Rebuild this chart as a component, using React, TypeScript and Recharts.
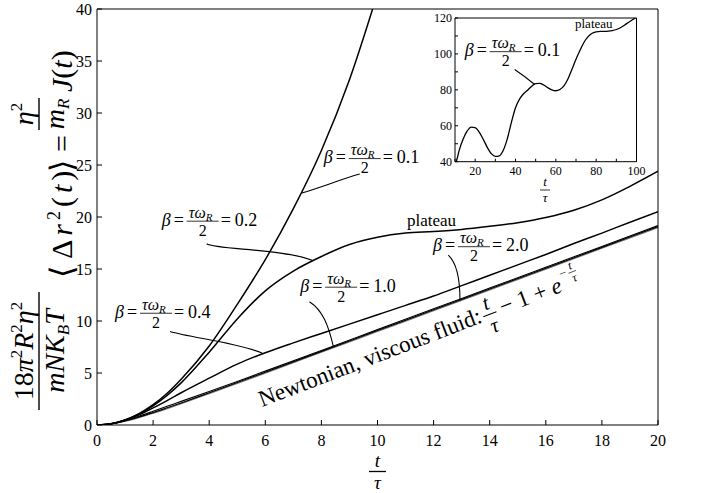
import React from 'react';
import { LineChart, Line, XAxis, YAxis, ReferenceDot } from 'recharts';

const FONT = '"Liberation Serif", "Times New Roman", "DejaVu Serif", serif';

// ---------- main chart data ----------
const xTicks = [0, 2, 4, 6, 8, 10, 12, 14, 16, 18, 20];
const yTicks = [0, 5, 10, 15, 20, 25, 30, 35, 40];

const b01T = [0, 0.5, 1, 1.5, 2, 2.5, 3, 4, 5, 6, 7, 8, 9, 10];
const b01V = [0, 0.12, 0.49, 1.1, 1.95, 3.05, 4.4, 7.6, 11.6, 15.9, 20.8, 26.4, 33.2, 41.5];

const b02T = [0, 0.5, 1, 1.5, 2, 2.5, 3, 4, 5, 6, 7, 8, 9, 10, 11, 12, 13, 14, 15, 16, 17, 18, 19, 20];
const b02V = [0, 0.12, 0.48, 1.07, 1.85, 2.85, 4.05, 7.0, 10.2, 12.9, 14.8, 16.2, 17.35, 18.05, 18.45, 18.6, 18.8, 19.1, 19.45, 19.95, 20.65, 21.65, 22.95, 24.4];

const b04T = [0, 0.5, 1, 1.5, 2, 2.5, 3, 4, 5, 6, 7, 8, 9, 10, 11, 12, 13, 14, 15, 16, 17, 18, 19, 20];
const b04V = [0, 0.11, 0.45, 0.98, 1.65, 2.35, 3.1, 4.5, 5.85, 6.95, 7.9, 8.8, 9.7, 10.6, 11.5, 12.4, 13.4, 14.4, 15.4, 16.4, 17.45, 18.45, 19.5, 20.5];

const b10T = [0, 0.5, 1, 1.5, 2, 2.5, 3, 4, 5, 6, 8, 10, 12, 14, 16, 18, 20];
const b10V = [0, 0.12, 0.42, 0.85, 1.32, 1.8, 2.27, 3.22, 4.19, 5.18, 7.17, 9.17, 11.17, 13.17, 15.17, 17.17, 19.17];

const b20T = [0, 0.5, 1, 1.5, 2, 2.5, 3, 4, 5, 6, 8, 10, 12, 14, 16, 18, 20];
const b20V = [0, 0.11, 0.38, 0.76, 1.19, 1.65, 2.12, 3.1, 4.09, 5.08, 7.08, 9.08, 11.08, 13.08, 15.08, 17.08, 19.08];

const newtT = [0, 0.5, 1, 1.5, 2, 2.5, 3, 4, 5, 6, 7, 8, 10, 12, 14, 16, 18, 20];
const newtV = [0, 0.107, 0.368, 0.723, 1.135, 1.582, 2.05, 3.018, 4.007, 5.002, 6.001, 7, 9, 11, 13, 15, 17, 19];

// ---------- inset data (beta = 0.1, long time) ----------
const insetXTicks = [10, 20, 30, 40, 50, 60, 70, 80, 90, 100];
const insetYTicks = [40, 50, 60, 70, 80, 90, 100, 110, 120];
const inT = [10, 11, 12, 14, 16, 18, 20, 22, 24, 26, 28, 30, 32, 34, 36, 38, 40, 42, 44, 46, 48, 50, 52, 54, 56, 58, 60, 62, 64, 66, 68, 70, 72, 74, 76, 78, 80, 82, 84, 86, 88, 90, 92, 94, 96, 98, 100];
const inV = [38.5, 41.5, 46, 52.5, 57, 59.3, 59, 56.5, 52.5, 48, 44.5, 43, 43.3, 46.5, 53, 62, 70, 74.8, 77.8, 79.8, 82, 83.5, 83.6, 82.7, 81.2, 80, 79.5, 80.2, 82.2, 86, 91.5, 97, 102, 106.5, 109.6, 111.5, 112.3, 112.6, 112.6, 112.7, 113, 113.6, 114.6, 116, 117.5, 119, 120.5];

const zip = (xs: number[], ys: number[]) => xs.map((x, i) => ({ x, y: ys[i] }));

const axisLine = { stroke: '#000', strokeWidth: 1 };

function mkTick(anchor: 'middle' | 'end', dy: number, fs: number, every?: number) {
  return (p: any) => {
    const v = p.payload?.value;
    const show = every ? v % every === 0 : true;
    return (
      <text x={p.x} y={p.y} dy={dy} textAnchor={anchor} fontSize={fs} fontFamily={FONT} fill="#000">
        {show ? String(v) : ''}
      </text>
    );
  };
}

function BetaText({ x, y, val }: { x: number; y: number; val: string }) {
  return (
    <g fontFamily={FONT} fill="#000">
      <text x={x} y={y} fontSize={18} fontStyle="italic">β</text>
      <text x={x + 12} y={y} fontSize={18}>=</text>
      <text x={x + 27} y={y - 8} fontSize={16} fontStyle="italic">
        τω<tspan fontSize={11} dy={3}>R</tspan>
      </text>
      <line x1={x + 25} x2={x + 57} y1={y - 4.5} y2={y - 4.5} stroke="#000" strokeWidth={0.8} />
      <text x={x + 41} y={y + 10} fontSize={16} textAnchor="middle">2</text>
      <text x={x + 59} y={y} fontSize={18}>=</text>
      <text x={x + 73} y={y} fontSize={18}>{val}</text>
    </g>
  );
}

function annot(val: string, lab: [number, number], lead: [number, number], c1: [number, number], c2: [number, number]) {
  return (p: any) => {
    const { cx, cy } = p;
    if (cx == null || cy == null) return <g />;
    return (
      <g>
        <path
          d={`M${cx + lead[0]},${cy + lead[1]} C${cx + c1[0]},${cy + c1[1]} ${cx + c2[0]},${cy + c2[1]} ${cx},${cy}`}
          stroke="#000"
          fill="none"
          strokeWidth={1.1}
        />
        <BetaText x={cx + lab[0]} y={cy + lab[1]} val={val} />
      </g>
    );
  };
}

const lineProps = {
  type: 'monotone' as const,
  dataKey: 'y',
  stroke: '#000',
  strokeWidth: 1.5,
  dot: false,
  isAnimationActive: false,
  xAxisId: 'b',
  yAxisId: 'l',
};

function MainChart() {
  return (
    <LineChart width={704} height={493} margin={{ top: 8, right: 45, bottom: 67, left: 96 }}>
      <XAxis xAxisId="b" type="number" dataKey="x" domain={[0, 20]} ticks={xTicks} interval={0} height={1}
        tickSize={-5} tickMargin={16} axisLine={axisLine} tickLine={axisLine} tick={mkTick('middle', 9.5, 16)} allowDataOverflow />
      <XAxis xAxisId="t" orientation="top" type="number" dataKey="x" domain={[0, 20]} ticks={xTicks} interval={0} height={1}
        tickSize={-5} axisLine={axisLine} tickLine={axisLine} tickFormatter={() => ''} />
      <YAxis yAxisId="l" type="number" domain={[0, 40]} ticks={yTicks} interval={0} width={1}
        tickSize={-5} tickMargin={10} axisLine={axisLine} tickLine={axisLine} tick={mkTick('end', 5.5, 16)} allowDataOverflow />
      <YAxis yAxisId="r" orientation="right" type="number" domain={[0, 40]} ticks={yTicks} interval={0} width={1}
        tickSize={-5} axisLine={axisLine} tickLine={axisLine} tickFormatter={() => ''} />
      <Line {...lineProps} data={zip(newtT, newtV)} stroke="#777" strokeWidth={1.4} />
      <Line {...lineProps} data={zip(b20T, b20V)} strokeWidth={1.1} />
      <Line {...lineProps} data={zip(b10T, b10V)} strokeWidth={1.1} />
      <Line {...lineProps} data={zip(b04T, b04V)} />
      <Line {...lineProps} data={zip(b02T, b02V)} />
      <Line {...lineProps} data={zip(b01T, b01V)} />
      <ReferenceDot xAxisId="b" yAxisId="l" x={7.3} y={22.3}
        shape={annot('0.1', [22, -30], [58, -19], [40, -14], [20, -6])} />
      <ReferenceDot xAxisId="b" yAxisId="l" x={7.71} y={15.8}
        shape={annot('0.2', [-151.6, -35], [-106.6, -17], [-98, -11], [-30, -12])} />
      <ReferenceDot xAxisId="b" yAxisId="l" x={5.93} y={6.85}
        shape={annot('0.4', [-148.3, -36], [-93.3, -22.3], [-73, -16], [-23, -11])} />
      <ReferenceDot xAxisId="b" yAxisId="l" x={8.43} y={7.5}
        shape={annot('1.0', [-33.3, -55.3], [-24, -45.3], [-11, -37], [-5, -22])} />
      <ReferenceDot xAxisId="b" yAxisId="l" x={12.94} y={12.0}
        shape={annot('2.0', [-27, -49], [-11.7, -45], [-4, -38], [0, -25])} />
    </LineChart>
  );
}

function InsetChart() {
  return (
    <LineChart width={704} height={493} margin={{ top: 17, right: 66.5, bottom: 330.3, left: 454 }}>
      <XAxis xAxisId="b" type="number" dataKey="x" domain={[10, 100]} ticks={insetXTicks} interval={0} height={1}
        tickSize={-3} tickMargin={8} axisLine={axisLine} tickLine={axisLine} tick={mkTick('middle', 8.5, 12, 20)} allowDataOverflow />
      <XAxis xAxisId="t" orientation="top" type="number" dataKey="x" domain={[10, 100]} ticks={insetXTicks} interval={0} height={1}
        tickSize={-3} axisLine={axisLine} tickLine={axisLine} tickFormatter={() => ''} />
      <YAxis yAxisId="l" type="number" domain={[40, 120]} ticks={insetYTicks} interval={0} width={1}
        tickSize={-3} tickMargin={6} axisLine={axisLine} tickLine={axisLine} tick={mkTick('end', 4, 12, 20)} allowDataOverflow />
      <YAxis yAxisId="r" orientation="right" type="number" domain={[40, 120]} ticks={insetYTicks} interval={0} width={1}
        tickSize={-3} axisLine={axisLine} tickLine={axisLine} tickFormatter={() => ''} />
      <Line {...lineProps} data={zip(inT, inV)} strokeWidth={1.3} />
      <ReferenceDot xAxisId="b" yAxisId="l" x={49.5} y={83}
        shape={annot('0.1', [-70, -28.3], [-20, -15], [-14, -11], [-6, -5])} />
    </LineChart>
  );
}

function Overlay() {
  const it = { fontStyle: 'italic' as const };
  return (
    <svg width={704} height={493} style={{ position: 'absolute', left: 0, top: 0, pointerEvents: 'none' }}
      fontFamily={FONT} fill="#000">
      {/* y label */}
      <g transform="translate(72,412) rotate(-90)">
        <line x1={2} x2={120} y1={-33} y2={-33} stroke="#000" strokeWidth={1.4} />
        <text x={61} y={-39} fontSize={28} textAnchor="middle">
          18<tspan {...it}>π</tspan><tspan fontSize={17} dy={-11}>2</tspan>
          <tspan dy={11} {...it}>R</tspan><tspan fontSize={17} dy={-11}>2</tspan>
          <tspan dy={11} {...it}>η</tspan><tspan fontSize={17} dy={-11}>2</tspan>
        </text>
        <text x={61} y={-8} fontSize={28} textAnchor="middle" {...it}>
          mNK<tspan fontSize={17} dy={5}>B</tspan><tspan dy={-5}>T</tspan>
        </text>
        <text x={134} y={1} fontSize={32}>⟨</text>
        <text x={153} y={0} fontSize={30} letterSpacing={4}>
          Δ<tspan {...it}>r</tspan><tspan fontSize={18} dy={-12}>2</tspan><tspan dy={12}>(</tspan><tspan {...it}>t</tspan>)
        </text>
        <text x={240} y={1} fontSize={32}>⟩</text>
        <text x={260} y={0} fontSize={30}>=</text>
        <line x1={282} x2={314} y1={-33} y2={-33} stroke="#000" strokeWidth={1.4} />
        <text x={298} y={-39} fontSize={28} textAnchor="middle">
          <tspan {...it}>η</tspan><tspan fontSize={17} dy={-11}>2</tspan>
        </text>
        <text x={298} y={-8} fontSize={28} textAnchor="middle" {...it}>
          m<tspan fontSize={17} dy={5}>R</tspan>
        </text>
        <text x={320} y={0} fontSize={30}>
          <tspan {...it}>J</tspan>(<tspan {...it}>t</tspan>)
        </text>
      </g>
      {/* x label */}
      <text x={377.5} y={467} fontSize={19} textAnchor="middle" {...it}>t</text>
      <line x1={369} x2={386} y1={471.5} y2={471.5} stroke="#000" strokeWidth={1.3} />
      <text x={377.5} y={489} fontSize={19} textAnchor="middle" {...it}>τ</text>
      {/* inset x label */}
      <text x={545} y={186} fontSize={13} textAnchor="middle" {...it}>t</text>
      <line x1={540} x2={550} y1={190} y2={190} stroke="#000" strokeWidth={0.8} />
      <text x={545} y={202} fontSize={13} textAnchor="middle" {...it}>τ</text>
      {/* plateau labels */}
      <text x={407} y={226} fontSize={17}>plateau</text>
      <text x={575} y={28} fontSize={13}>plateau</text>
      {/* Newtonian label */}
      <g transform="translate(262,407) rotate(-21)">
        <text x={0} y={0} fontSize={23}>Newtonian, viscous fluid:</text>
        <text x={246} y={-10} fontSize={21} textAnchor="middle" {...it}>t</text>
        <line x1={239} x2={253} y1={-5} y2={-5} stroke="#000" strokeWidth={1} />
        <text x={246} y={14} fontSize={21} textAnchor="middle" {...it}>τ</text>
        <text x={258} y={0} fontSize={23}>− 1 + <tspan {...it}>e</tspan></text>
        <text x={325} y={-13} fontSize={13}>−</text>
        <text x={338} y={-18} fontSize={12} textAnchor="middle" {...it}>t</text>
        <line x1={334} x2={342} y1={-15} y2={-15} stroke="#000" strokeWidth={0.6} />
        <text x={338} y={-5} fontSize={12} textAnchor="middle" {...it}>τ</text>
      </g>
    </svg>
  );
}

export default function App() {
  return (
    <div style={{ position: 'absolute', left: 0, top: 0, width: 704, height: 493, background: '#fff', fontFamily: FONT }}>
      <div style={{ position: 'absolute', left: 0, top: 0 }}><MainChart /></div>
      <div style={{ position: 'absolute', left: 0, top: 0 }}><InsetChart /></div>
      <Overlay />
    </div>
  );
}
